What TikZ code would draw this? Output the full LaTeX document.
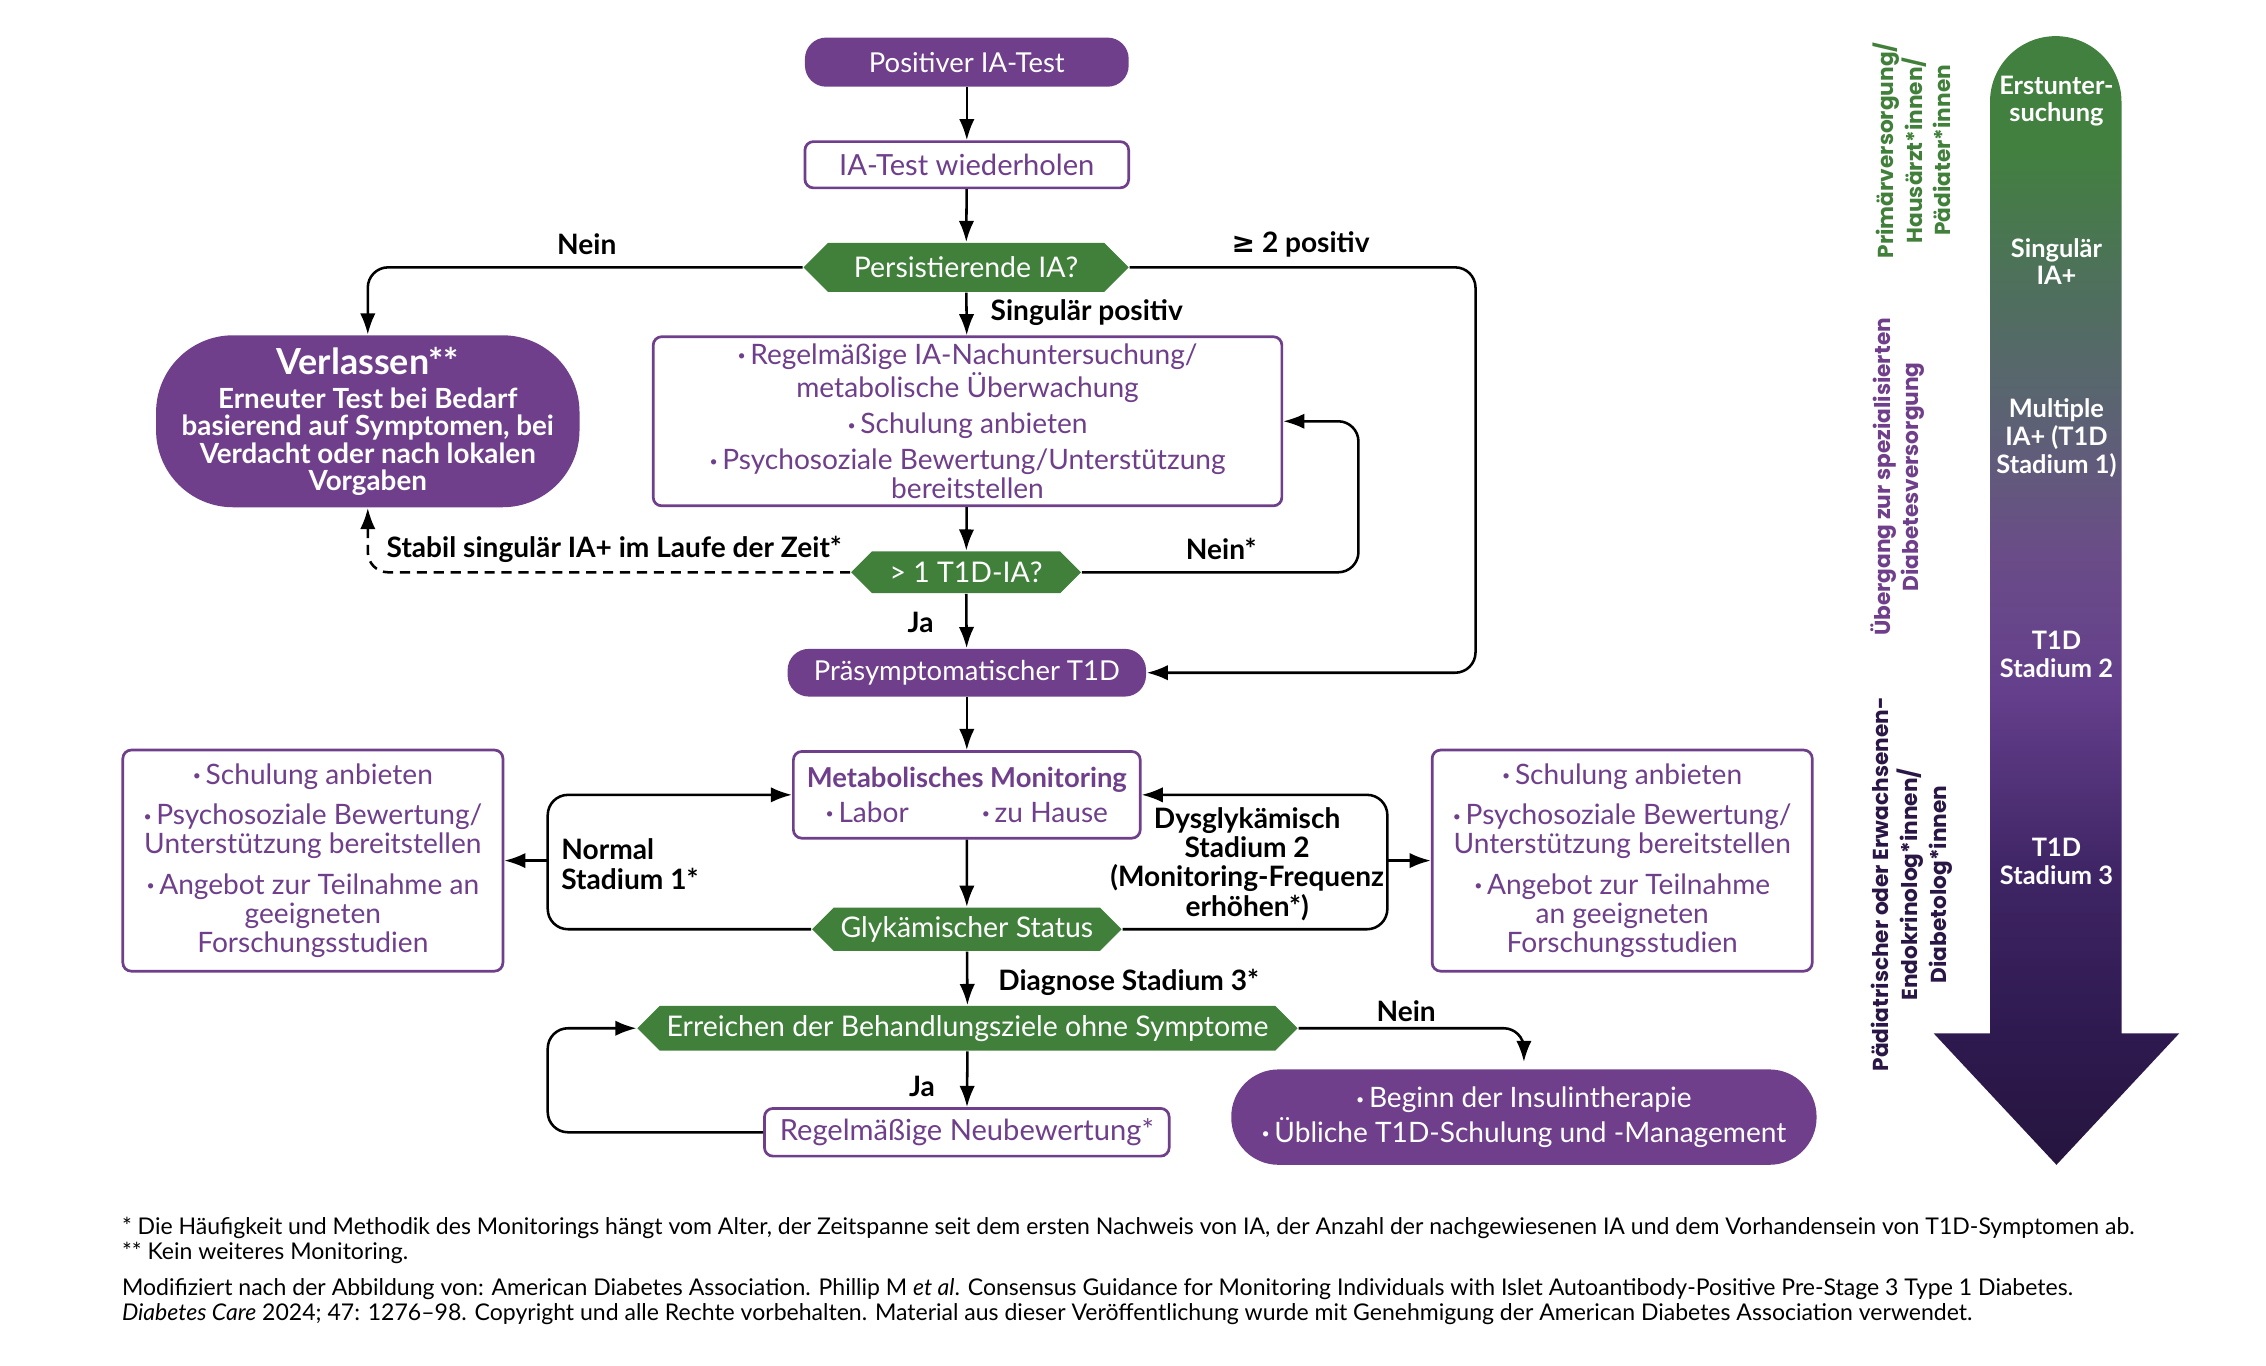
\documentclass[tikz,border=0pt]{standalone}
\usepackage{fontspec}
\setmainfont{Lato}
\newfontfamily\sidefont{Poppins}
\newfontfamily\symfont{DejaVu Sans}
\usepackage{graphicx}
\usetikzlibrary{positioning,arrows.meta,shapes.symbols}

\definecolor{iapurple}{HTML}{6F3F8B}
\definecolor{iagreen}{HTML}{41803B}
\definecolor{iadark}{HTML}{2A1745}
\definecolor{gradA}{HTML}{25143E}
\definecolor{gradB}{HTML}{2F1A50}
\definecolor{gradC}{HTML}{3F2565}
\definecolor{gradD}{HTML}{653F8C}
\definecolor{gradE}{HTML}{6A4C88}
\definecolor{gradF}{HTML}{5C6274}
\definecolor{gradG}{HTML}{4E705C}
\definecolor{gradH}{HTML}{42803F}

\pgfdeclareverticalshading{stagegrad}{100bp}{color(0bp)=(gradA); color(25bp)=(gradA);
  color(31bp)=(gradB); color(38bp)=(gradC); color(46bp)=(gradD); color(52bp)=(gradE);
  color(58bp)=(gradF); color(64bp)=(gradG); color(70bp)=(gradH); color(100bp)=(gradH)}

\newcommand{\dotitem}{\raisebox{0.25ex}{\scalebox{0.5}{\textbullet}}\,}

\tikzset{
  every node/.style={font=\fontsize{8.3}{8.6}\selectfont},
  startbox/.style={rounded corners=0.22cm, fill=iapurple, text=white, inner sep=1pt,
                   font=\fontsize{8.1}{8.1}\selectfont},
  stepbox/.style={draw=iapurple, line width=0.8pt, rounded corners=2.5pt, fill=white,
                  text=iapurple, align=center, inner sep=2pt},
  question/.style={signal, signal to=west and east, signal pointer angle=90, fill=iagreen,
                   text=white, inner xsep=2pt, inner ysep=1pt, font=\fontsize{8.4}{8.4}\selectfont},
  exitbox/.style={fill=iapurple, text=white, align=center},
  lbl/.style={font=\bfseries\fontsize{8.3}{8.3}\selectfont, inner sep=0pt},
  stage/.style={text=white, align=center, font=\bfseries\fontsize{7.5}{8.2}\selectfont},
  carer/.style={rotate=90, align=center, font=\sidefont\bfseries\fontsize{6.4}{8.5}\selectfont},
  fwd/.style={-{Latex[length=2.2mm,width=1.6mm]}, line width=0.75pt, rounded corners=6pt},
  note/.style={align=left, inner sep=0pt, font=\fontsize{6.8}{7.3}\selectfont},
}

\begin{document}
\begin{tikzpicture}[x=0.015cm, y=-0.015cm]
  \fill[white] (0,0) rectangle (1568,945.2);

  % main column
  \node[startbox, minimum width=3.36cm, minimum height=0.51cm] (pos) at (669,43) {Positiver IA-Test};
  \node[stepbox, minimum width=3.36cm, minimum height=0.48cm, font=\fontsize{8.6}{8.6}\selectfont] (rep) at (669,114) {IA-Test wiederholen};
  \node[question, minimum width=3.375cm, minimum height=0.51cm] (pers) at (668.5,185) {Persistierende IA?};
  \node[stepbox, minimum width=6.525cm, minimum height=1.755cm] (follow) at (669.5,291.5)
    {\dotitem Regelmäßige IA-Nachuntersuchung/\\ metabolische Überwachung\\[2pt]
     \dotitem Schulung anbieten\\[2pt]
     \dotitem Psychosoziale Bewertung/Unterstützung\\ bereitstellen};
  \node[exitbox, rounded corners=0.8cm, minimum width=4.395cm, minimum height=1.785cm,
        font=\bfseries\fontsize{8.2}{8.1}\selectfont] (exit) at (254.5,291.5)
    {{\fontsize{10.6}{10.6}\selectfont Verlassen**}\\[2pt] Erneuter Test bei Bedarf\\ basierend auf Symptomen, bei\\ Verdacht oder nach lokalen\\ Vorgaben};
  \node[question, minimum width=2.385cm, minimum height=0.435cm] (multi) at (668.5,396) {> 1 T1D-IA?};
  \node[startbox, minimum width=3.72cm, minimum height=0.495cm] (pre) at (669,465.5) {Präsymptomatischer T1D};
  \node[stepbox, minimum width=3.6cm, minimum height=0.9cm, font=\fontsize{8.3}{10.2}\selectfont] (metab) at (669,550)
    {{\bfseries\fontsize{8.1}{8.1}\selectfont Metabolisches Monitoring}\\ \dotitem Labor\hspace{2.6em}\dotitem zu Hause};
  \node[question, minimum width=2.91cm, minimum height=0.45cm] (glyk) at (669,643) {Glykämischer Status};
  \node[stepbox, minimum width=3.945cm, minimum height=2.295cm] (careL) at (216.5,595.5)
    {\dotitem Schulung anbieten\\[3.4pt] \dotitem Psychosoziale Bewertung/\\ Unterstützung bereitstellen\\[3.4pt]
     \dotitem Angebot zur Teilnahme an\\ geeigneten\\ Forschungsstudien};
  \node[stepbox, minimum width=3.945cm, minimum height=2.295cm] (careR) at (1122.5,595.5)
    {\dotitem Schulung anbieten\\[3.4pt] \dotitem Psychosoziale Bewertung/\\ Unterstützung bereitstellen\\[3.4pt]
     \dotitem Angebot zur Teilnahme\\ an geeigneten\\ Forschungsstudien};
  \node[question, minimum width=6.765cm, minimum height=0.465cm] (goal) at (669.5,711.5) {Erreichen der Behandlungsziele ohne Symptome};
  \node[stepbox, minimum width=4.2cm, minimum height=0.495cm, font=\fontsize{8.6}{8.6}\selectfont] (review) at (669,783.5) {Regelmäßige Neubewertung*};
  \node[exitbox, rounded corners=0.49cm, minimum width=6.075cm, minimum height=0.99cm,
        font=\fontsize{8.3}{10.2}\selectfont] (insulin) at (1054.5,773)
    {\dotitem Beginn der Insulintherapie\\ \dotitem Übliche T1D-Schulung und -Management};

  % connectors
  \draw[fwd] (pos) -- (rep);
  \draw[fwd] (rep) -- (pers);
  \draw[fwd] (pers.west) -| (exit.north);
  \draw[fwd] (pers.east) -- (1021,185) |- (pre.east);
  \draw[fwd] (pers) -- (follow);
  \draw[fwd] (follow) -- (multi);
  \draw[fwd] (multi.east) -- (940,396) |- (follow.east);
  \draw[fwd, dashed, dash pattern=on 3pt off 2pt] (multi.west) -| (exit.south);
  \draw[fwd] (multi) -- (pre);
  \draw[fwd] (pre) -- (metab);
  \draw[fwd] (metab) -- (glyk);
  \draw[fwd] (glyk.west) -- (379,643) |- (metab.west);
  \draw[fwd] (glyk.east) -- (960,643) |- (metab.east);
  \coordinate (splitL) at (379,595.5);
  \coordinate (splitR) at (960,595.5);
  \draw[fwd] (splitL) -- (careL.east);
  \draw[fwd] (splitR) -- (careR.west);
  \draw[fwd] (glyk) -- (goal);
  \draw[fwd, shorten >=2pt] (goal.east) -| (insulin.north);
  \draw[fwd] (goal) -- (review);
  \draw[fwd] (review.west) -- (379,783.5) |- (goal.west);

  % connector labels
  \node[lbl] (nein1) at (406,169) {Nein};
  \node[lbl] (twopos) at (900,169) {{\symfont\bfseries ≥} 2 positiv};
  \node[lbl] (single) at (752,216) {Singulär positiv};
  \node[lbl] (stable) at (425,380) {Stabil singulär IA+ im Laufe der Zeit*};
  \node[lbl] (nein2) at (845,380) {Nein*};
  \node[lbl] (ja1) at (637,431) {Ja};
  \node[lbl, align=left, anchor=west, font=\bfseries\fontsize{8.3}{8.6}\selectfont] (normal) at (388,598) {Normal\\Stadium 1*};
  \node[lbl, align=center, font=\bfseries\fontsize{8.3}{8.6}\selectfont] (dysgly) at (863,598)
    {Dysglykämisch\\Stadium 2\\(Monitoring-Frequenz\\erhöhen*)};
  \node[lbl] (diag) at (781,680) {Diagnose Stadium 3*};
  \node[lbl] (nein3) at (973,700) {Nein};
  \node[lbl] (ja2) at (638,752) {Ja};

  % stage arrow
  \shade[shading=stagegrad] (1377,715) -- (1377,70.5) arc (180:0:0.6825cm) -- (1468,715)
    -- (1508,715) -- (1423,806) -- (1338,715) -- cycle;
  \node[stage] (st1) at (1423,70) {Erstunter-\\suchung};
  \node[stage] (st2) at (1423,181) {Singulär\\IA+};
  \node[stage] (st3) at (1423,303) {Multiple\\IA+ (T1D\\Stadium 1)};
  \node[stage] (st4) at (1423,453) {T1D\\Stadium 2};
  \node[stage] (st5) at (1423,596) {T1D\\Stadium 3};

  \node[carer, text=iagreen] (primary) at (1323,104) {Primärversorgung/\\Hausärzt*innen/\\Pädiater*innen};
  \node[carer, text=iapurple] (transit) at (1313,330) {Übergang zur spezialisierten\\Diabetesversorgung};
  \node[carer, text=iadark] (special) at (1323,612) {Pädiatrischer oder Erwachsenen-\\Endokrinolog*innen/\\Diabetolog*innen};

  % footnotes
  \node[note, anchor=north west] (notes) at (84,842)
    {* Die Häufigkeit und Methodik des Monitorings hängt vom Alter, der Zeitspanne seit dem ersten Nachweis von IA, der Anzahl der nachgewiesenen IA und dem Vorhandensein von T1D-Symptomen ab.\\
     ** Kein weiteres Monitoring.\\[3.4pt]
     Modifiziert nach der Abbildung von: American Diabetes Association. Phillip M \textit{et al}. Consensus Guidance for Monitoring Individuals with Islet Autoantibody-Positive Pre-Stage 3 Type 1 Diabetes.\\
     \textit{Diabetes Care} 2024; 47: 1276–98. Copyright und alle Rechte vorbehalten. Material aus dieser Veröffentlichung wurde mit Genehmigung der American Diabetes Association verwendet.};
\end{tikzpicture}
\end{document}
